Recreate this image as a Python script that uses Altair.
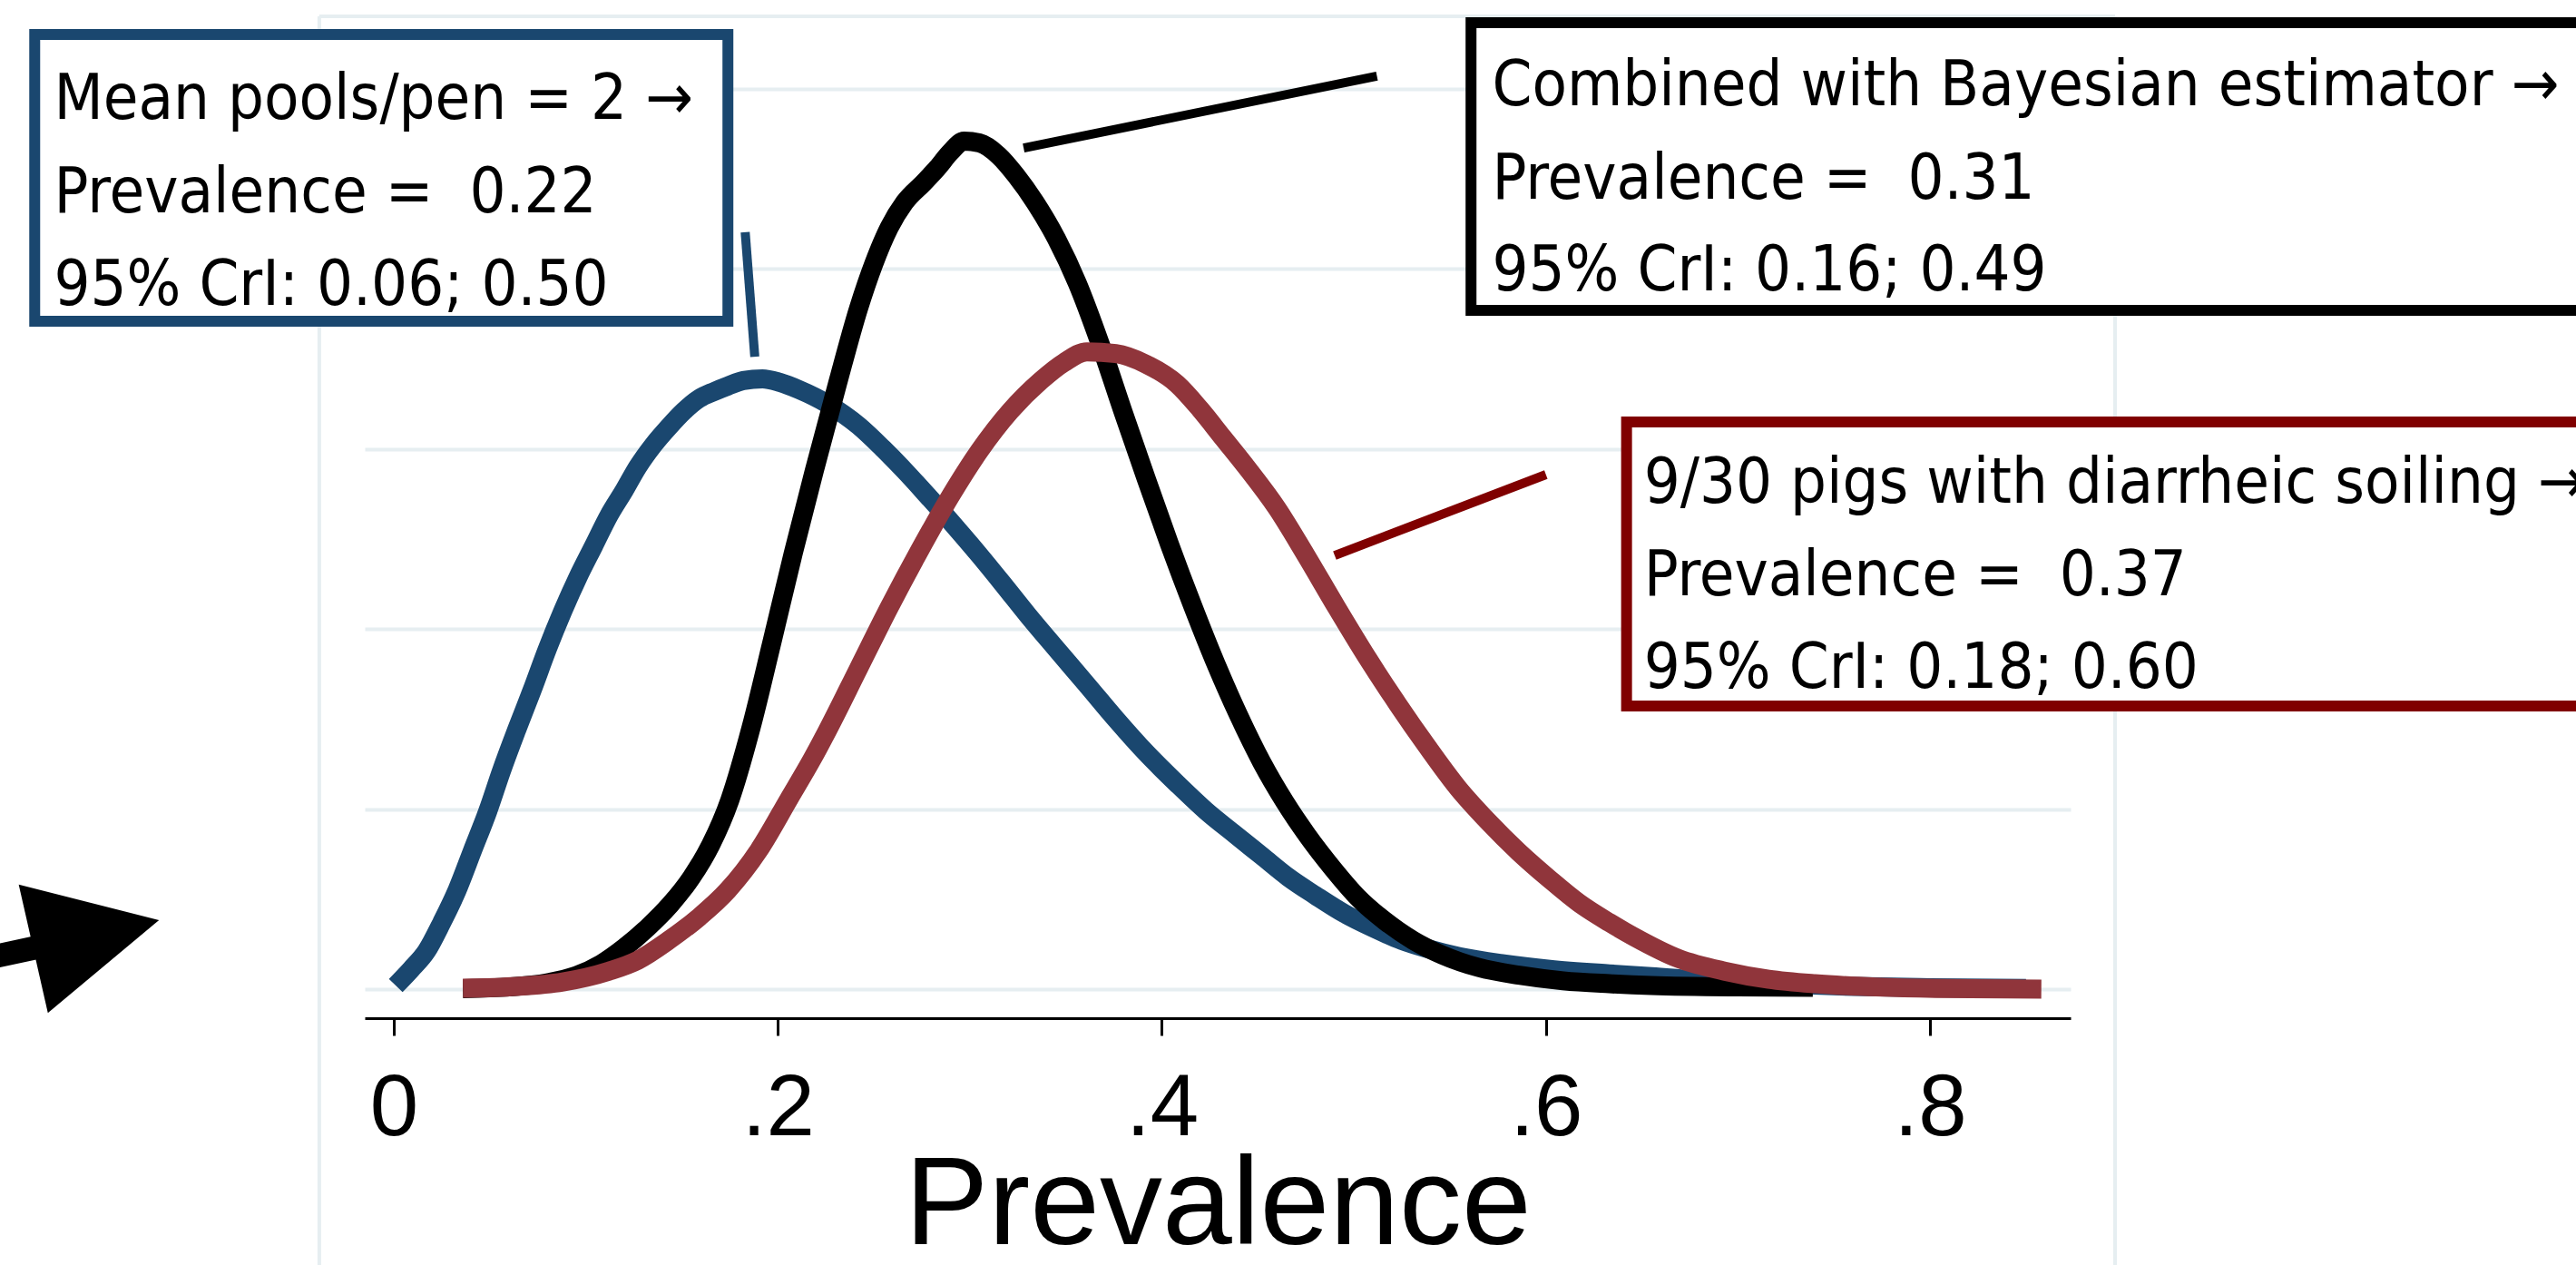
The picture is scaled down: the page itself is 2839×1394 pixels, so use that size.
import altair as alt
import pandas as pd

# ---------------- data ----------------
# Blue: "Mean pools/pen = 2"
blue_x = [0.001, 0.009, 0.017, 0.025, 0.033, 0.041, 0.049, 0.056, 0.064, 0.072,
          0.080, 0.088, 0.096, 0.104, 0.112, 0.120, 0.127, 0.135, 0.143, 0.151,
          0.159, 0.167, 0.174, 0.182, 0.192, 0.201, 0.211, 0.226, 0.242, 0.255,
          0.266, 0.278, 0.293, 0.305, 0.318, 0.330, 0.345, 0.361, 0.376, 0.392,
          0.408, 0.423, 0.438, 0.452, 0.466, 0.480, 0.495, 0.510, 0.525, 0.540,
          0.555, 0.578, 0.602, 0.633, 0.655, 0.680, 0.720, 0.760, 0.800, 0.850]
blue_y = [0.02, 0.11, 0.21, 0.37, 0.55, 0.77, 0.99, 1.21, 1.44, 1.66,
          1.89, 2.10, 2.29, 2.46, 2.63, 2.77, 2.90, 3.02, 3.12, 3.21,
          3.28, 3.32, 3.35, 3.38, 3.39, 3.37, 3.33, 3.25, 3.13, 3.00,
          2.88, 2.74, 2.56, 2.41, 2.24, 2.08, 1.89, 1.69, 1.50, 1.31,
          1.14, 0.99, 0.86, 0.74, 0.62, 0.52, 0.42, 0.34, 0.27, 0.22,
          0.18, 0.14, 0.11, 0.085, 0.07, 0.05, 0.03, 0.015, 0.008, 0.004]

# Black: "Combined with Bayesian estimator"
black_x = [0.036, 0.060, 0.080, 0.095, 0.108, 0.120, 0.132, 0.144, 0.155, 0.165,
           0.175, 0.186, 0.197, 0.208, 0.219, 0.231, 0.242, 0.250, 0.258, 0.266,
           0.276, 0.283, 0.290, 0.297, 0.305, 0.315, 0.324, 0.334, 0.345, 0.356,
           0.368, 0.380, 0.392, 0.404, 0.416, 0.428, 0.440, 0.452, 0.464, 0.476,
           0.489, 0.502, 0.516, 0.531, 0.546, 0.565, 0.586, 0.609, 0.633, 0.655,
           0.700, 0.739]
black_y = [0.003, 0.012, 0.035, 0.075, 0.14, 0.23, 0.34, 0.47, 0.62, 0.80,
           1.05, 1.45, 1.93, 2.42, 2.88, 3.36, 3.78, 4.03, 4.23, 4.37,
           4.48, 4.56, 4.65, 4.71, 4.70, 4.63, 4.52, 4.37, 4.17, 3.92,
           3.58, 3.20, 2.83, 2.47, 2.13, 1.81, 1.52, 1.26, 1.04, 0.85,
           0.67, 0.51, 0.38, 0.27, 0.19, 0.12, 0.077, 0.046, 0.03, 0.02,
           0.012, 0.01]

# Red: "9/30 pigs with diarrheic soiling"
red_x = [0.036, 0.064, 0.088, 0.112, 0.127, 0.143, 0.159, 0.174, 0.190, 0.206,
         0.218, 0.226, 0.242, 0.258, 0.274, 0.290, 0.305, 0.321, 0.337, 0.349,
         0.361, 0.376, 0.392, 0.408, 0.420, 0.432, 0.444, 0.460, 0.475, 0.491,
         0.507, 0.523, 0.538, 0.554, 0.570, 0.586, 0.602, 0.617, 0.633, 0.646,
         0.669, 0.693, 0.716, 0.740, 0.772, 0.803, 0.858]
red_y = [0.005, 0.015, 0.04, 0.10, 0.16, 0.27, 0.40, 0.55, 0.77, 1.06,
         1.28, 1.44, 1.78, 2.12, 2.44, 2.74, 2.99, 3.21, 3.38, 3.48,
         3.54, 3.53, 3.47, 3.36, 3.22, 3.06, 2.90, 2.67, 2.41, 2.12,
         1.84, 1.58, 1.35, 1.12, 0.93, 0.76, 0.61, 0.48, 0.37, 0.29,
         0.17, 0.10, 0.055, 0.03, 0.012, 0.004, 0.0]

tick_values = [0, 0.2, 0.4, 0.6, 0.8]
grid_values = [0, 1, 2, 3, 4, 5]

NB = "\u00a0"
blue_lines = ["Mean pools/pen = 2 \u2192", "Prevalence = " + NB + "0.22", "95% CrI: 0.06; 0.50"]
black_lines = ["Combined with Bayesian estimator \u2192", "Prevalence = " + NB + "0.31", "95% CrI: 0.16; 0.49"]
red_lines = ["9/30 pigs with diarrheic soiling \u2192", "Prevalence = " + NB + "0.37", "95% CrI: 0.18; 0.60"]

# annotation anchors, in data units (prevalence, density)
box_x = [-0.187, 0.561, 0.642]
box_x2 = [0.174, 1.165, 1.165]
box_y = [3.710, 3.770, 1.573]
box_y2 = [5.302, 5.368, 3.150]
text_x = [-0.177, 0.572, 0.651]
text_y = [[4.834, 4.315, 3.800], [4.909, 4.390, 3.881], [2.702, 2.188, 1.673]]
lead_x = [0.183, 0.328, 0.490]
lead_y = [4.204, 4.672, 2.409]
lead_x2 = [0.188, 0.512, 0.600]
lead_y2 = [3.513, 5.071, 2.858]
frame_x = [-0.0388, 0.8964]
frame_top = 5.403
frame_bottom = -1.6
shaft_x = [-0.212, -0.177]
shaft_y = [0.172, 0.252]
head_x = [-0.155]
head_y = [0.304]

# ---------------- styling ----------------
NAVY = "#1a476f"
MAROON = "#90353b"
DARKRED = "#800000"
GRID = "#e6eef1"
NARROW = "Liberation Sans Narrow, Noto Sans Condensed, DejaVu Sans Condensed, sans-serif"
SANS = "Liberation Sans, Arial, sans-serif"

x_scale = alt.Scale(domain=[-0.015121, 0.873243], nice=False, zero=False)
y_scale = alt.Scale(domain=[-0.16129, 5.49395], nice=False, zero=False)

x_axis = alt.Axis(
    values=tick_values, grid=False, title="Prevalence",
    labelExpr="datum.value == 0 ? '0' : '.' + round(datum.value * 10)",
    labelFont=SANS, labelFontSize=96, labelColor="black", labelPadding=33,
    labelFlush=False, labelOverlap=False,
    tickColor="black", tickWidth=3, tickSize=19,
    domainColor="black", domainWidth=3,
    titleFont=SANS, titleFontSize=138, titleFontWeight="normal", titleColor="black",
    titleBaseline="alphabetic", titleY=248,
)
y_axis = alt.Axis(values=grid_values, grid=True, gridColor=GRID, gridWidth=4,
                  labels=False, ticks=False, domain=False, title=None)


def X(field):
    return alt.X(field, scale=x_scale, axis=x_axis, title="Prevalence")


def Y(field):
    return alt.Y(field, scale=y_scale, axis=y_axis, title=None)


def curve(xs, ys, color):
    return alt.Chart(pd.DataFrame({"x": xs, "y": ys})).mark_line(
        color=color, strokeWidth=21, strokeCap="butt", strokeJoin="round",
        interpolate="monotone", clip=False,
    ).encode(x=X("x:Q"), y=Y("y:Q"), order=alt.Order("x:Q"))


layers = []

# plot region frame (light)
frame_df = pd.DataFrame({
    "x": [frame_x[0], frame_x[1], frame_x[0]],
    "x2": [frame_x[0], frame_x[1], frame_x[1]],
    "y": [frame_top, frame_top, frame_top],
    "y2": [frame_bottom, frame_bottom, frame_top],
})
layers.append(alt.Chart(frame_df).mark_rule(color=GRID, strokeWidth=4).encode(
    x=X("x:Q"), x2="x2:Q", y=Y("y:Q"), y2="y2:Q"))

layers.append(curve(blue_x, blue_y, NAVY))
layers.append(curve(black_x, black_y, "black"))
layers.append(curve(red_x, red_y, MAROON))

# leader lines
lead_df = pd.DataFrame({"x": lead_x, "y": lead_y, "x2": lead_x2, "y2": lead_y2,
                        "c": [NAVY, "black", DARKRED]})
layers.append(alt.Chart(lead_df).mark_rule(strokeWidth=10, strokeCap="butt").encode(
    x=X("x:Q"), x2="x2:Q", y=Y("y:Q"), y2="y2:Q",
    color=alt.Color("c:N", scale=None)))

# boxes
box_df = pd.DataFrame({"x": box_x, "x2": box_x2, "y": box_y, "y2": box_y2,
                       "c": [NAVY, "black", DARKRED]})
layers.append(alt.Chart(box_df).mark_rect(fill="white", strokeWidth=12).encode(
    x=X("x:Q"), x2="x2:Q", y=Y("y:Q"), y2="y2:Q",
    stroke=alt.Stroke("c:N", scale=None)))

# box texts
rows = []
for lines, tx, tys in zip([blue_lines, black_lines, red_lines], text_x, text_y):
    for line, ty in zip(lines, tys):
        rows.append({"x": tx, "y": ty, "t": line})
layers.append(alt.Chart(pd.DataFrame(rows)).mark_text(
    align="left", baseline="alphabetic", font=NARROW, fontSize=70, color="black"
).encode(x=X("x:Q"), y=Y("y:Q"), text="t:N"))

# big arrow at the bottom left
shaft_df = pd.DataFrame({"x": [shaft_x[0]], "x2": [shaft_x[1]],
                         "y": [shaft_y[0]], "y2": [shaft_y[1]]})
layers.append(alt.Chart(shaft_df).mark_rule(color="black", strokeWidth=26, strokeCap="butt").encode(
    x=X("x:Q"), x2="x2:Q", y=Y("y:Q"), y2="y2:Q"))

layers.append(alt.Chart(pd.DataFrame({"x": head_x, "y": head_y})).mark_point(
    shape="M-0.98,-1L0.98,0L-0.98,1Z", size=21025, angle=347.2,
    filled=True, color="black", opacity=1, strokeWidth=0,
).encode(x=X("x:Q"), y=Y("y:Q")))

chart = alt.layer(*layers).properties(
    width=1880, height=1122,
    padding={"left": 402, "top": 0, "right": 557, "bottom": 272},
    autosize=alt.AutoSizeParams(type="none"),
    background="white",
).configure_view(strokeWidth=0)

chart.save("out.html", embed_options={"renderer": "svg", "actions": False})
